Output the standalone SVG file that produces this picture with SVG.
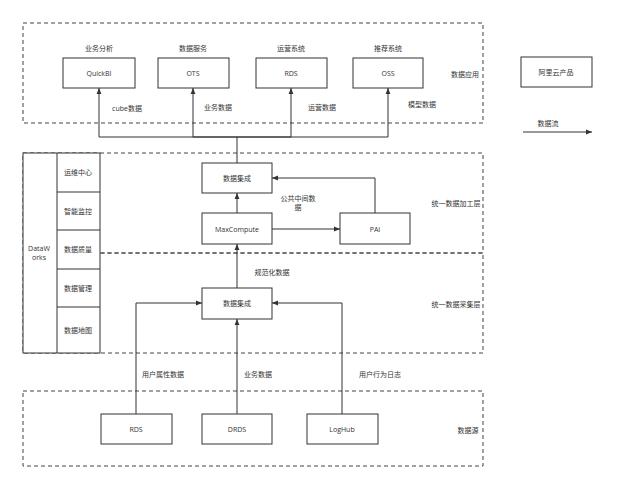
<svg xmlns="http://www.w3.org/2000/svg" width="624" height="497" viewBox="0 0 624 497">
<style>
text{font-family:"Open Sans","Noto Sans CJK SC",sans-serif;font-size:7px;fill:#333;text-anchor:middle;dominant-baseline:central}
.box{fill:#fff;stroke:#333;stroke-width:1}
.dash{fill:none;stroke:#444;stroke-width:1;stroke-dasharray:4 3}
.ln{fill:none;stroke:#333;stroke-width:1}
.arr{fill:none;stroke:#333;stroke-width:1;marker-end:url(#ah)}
</style>
<defs>
<marker id="ah" viewBox="0 0 10 10" refX="10" refY="5" markerWidth="6" markerHeight="6" markerUnits="userSpaceOnUse" orient="auto">
<path d="M0,1 L10,5 L0,9 Z" fill="#333"/>
</marker>
</defs>
<rect width="624" height="497" fill="#fff"/>
<g id="layers">
<rect class="dash" x="23" y="23" width="460" height="100"/>
<rect class="dash" x="23" y="153" width="460" height="100"/>
<rect class="dash" x="23" y="253" width="460" height="100"/>
<rect class="dash" x="23" y="391" width="460" height="75"/>
<text x="465" y="74">数据应用</text>
<text x="456" y="203">统一数据加工层</text>
<text x="456" y="304">统一数据采集层</text>
<text x="468" y="430">数据源</text>
</g>
<g id="connectors">
<path class="arr" d="M237,163 V137 H99 V88"/>
<path class="arr" d="M237,137 H193 V88"/>
<path class="arr" d="M237,137 H291 V88"/>
<path class="arr" d="M237,137 H388 V88"/>
<path class="arr" d="M237,213 V193"/>
<path class="arr" d="M272,229 H340"/>
<path class="arr" d="M375,213 V178 H272"/>
<path class="arr" d="M237,288 V244"/>
<path class="arr" d="M136,414 V303 H202"/>
<path class="arr" d="M237,414 V319"/>
<path class="arr" d="M342,414 V303 H272"/>
<path class="arr" d="M523,132 H592"/>
<text x="127" y="108">cube数据</text>
<text x="218" y="107">业务数据</text>
<text x="322" y="107">运营数据</text>
<text x="422" y="104">模型数据</text>
<text x="298" y="198">公共中间数</text>
<text x="298" y="207">据</text>
<text x="272" y="272">规范化数据</text>
<text x="163" y="374">用户属性数据</text>
<text x="258" y="374">业务数据</text>
<text x="380" y="374">用户行为日志</text>
<text x="548" y="123">数据流</text>
</g>
<g id="quickbi"><text x="99" y="48">业务分析</text><rect class="box" x="63" y="58" width="72" height="30"/><text x="99" y="73">QuickBI</text></g>
<g id="ots"><text x="193" y="48">数据服务</text><rect class="box" x="158" y="58" width="71" height="30"/><text x="193" y="73">OTS</text></g>
<g id="rds-app"><text x="291" y="48">运营系统</text><rect class="box" x="256" y="58" width="71" height="30"/><text x="291" y="73">RDS</text></g>
<g id="oss"><text x="388" y="48">推荐系统</text><rect class="box" x="353" y="58" width="70" height="30"/><text x="388" y="73">OSS</text></g>
<g id="legend"><rect class="box" x="521" y="57" width="71" height="30"/><text x="556" y="72">阿里云产品</text></g>
<g id="dataworks">
<rect class="box" x="23" y="153" width="77" height="200"/>
<line class="ln" x1="57" y1="153" x2="57" y2="353"/>
<line class="ln" x1="57" y1="192" x2="100" y2="192"/>
<line class="ln" x1="57" y1="230" x2="100" y2="230"/>
<line class="ln" x1="57" y1="269" x2="100" y2="269"/>
<line class="ln" x1="57" y1="307" x2="100" y2="307"/>
<text x="39" y="248">DataW</text>
<text x="39" y="257">orks</text>
<text x="78" y="172">运维中心</text>
<text x="78" y="211">智能监控</text>
<text x="78" y="249">数据质量</text>
<text x="78" y="288">数据管理</text>
<text x="78" y="330">数据地图</text>
</g>
<g id="integration-top"><rect class="box" x="202" y="163" width="70" height="30"/><text x="237" y="178">数据集成</text></g>
<g id="maxcompute"><rect class="box" x="202" y="213" width="70" height="31"/><text x="237" y="229">MaxCompute</text></g>
<g id="pai"><rect class="box" x="340" y="213" width="70" height="31"/><text x="375" y="229">PAI</text></g>
<g id="integration-bottom"><rect class="box" x="202" y="288" width="70" height="31"/><text x="237" y="303">数据集成</text></g>
<g id="rds-src"><rect class="box" x="101" y="414" width="71" height="30"/><text x="136" y="429">RDS</text></g>
<g id="drds"><rect class="box" x="202" y="414" width="70" height="30"/><text x="237" y="429">DRDS</text></g>
<g id="loghub"><rect class="box" x="307" y="414" width="71" height="30"/><text x="342" y="429">LogHub</text></g>
</svg>
